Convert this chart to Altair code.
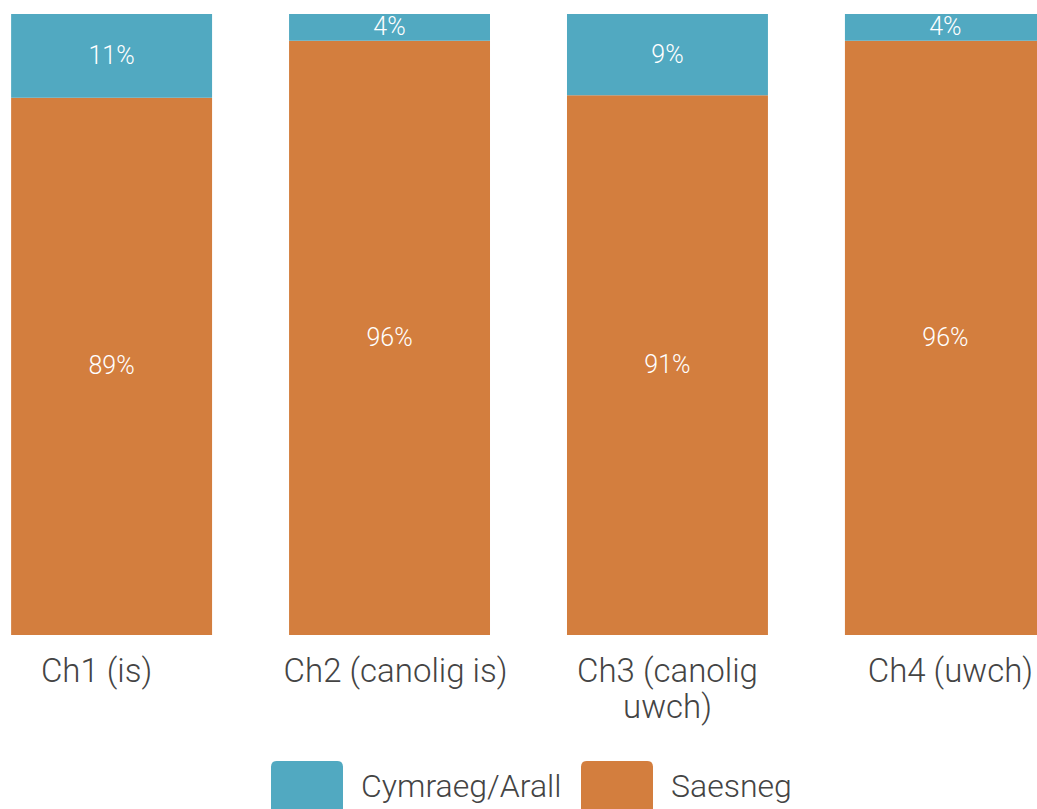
import altair as alt
import pandas as pd

categories = ["Ch1 (is)", "Ch2 (canolig is)", "Ch3 (canolig uwch)", "Ch4 (uwch)"]
series = ["Cymraeg/Arall", "Saesneg"]
colors = ["#51A9C1", "#D37E3E"]

# bar segment shares (percent of bar height)
welsh_share = [13.5, 4.3, 13.1, 4.3]
english_share = [86.5, 95.7, 86.9, 95.7]
# printed labels
welsh_labels = ["11%", "4%", "9%", "4%"]
english_labels = ["89%", "96%", "91%", "96%"]

rows = []
for i, c in enumerate(categories):
    rows.append(dict(cat=c, series=series[1], share=english_share[i], label=english_labels[i], order=0))
    rows.append(dict(cat=c, series=series[0], share=welsh_share[i], label=welsh_labels[i], order=1))
df = pd.DataFrame(rows)

FONT = "Roboto"

base = alt.Chart(df).transform_stack(
    stack="share", as_=["y0", "y1"], groupby=["cat"], sort=[alt.SortField("order")]
).transform_calculate(mid="(datum.y0 + datum.y1) / 2")

label_offset = {
    "condition": [
        {"test": "datum.value == 'Ch1 (is)'", "value": -15},
        {"test": "datum.value == 'Ch2 (canolig is)'", "value": 6},
        {"test": "datum.value == 'Ch4 (uwch)'", "value": 5},
    ],
    "value": 0,
}

x = alt.X(
    "cat:N",
    sort=categories,
    title=None,
    scale=alt.Scale(range=[0, 1057], paddingInner=0.277, paddingOuter=0.04),
    axis=alt.Axis(
        domain=False, ticks=False, grid=False, labelAngle=0,
        labelFont=FONT, labelFontSize=33, labelFontWeight=300, labelColor="#444444",
        labelPadding=20, labelLimit=500, labelLineHeight=36,
        labelOffset=label_offset,
        labelExpr="datum.value == 'Ch3 (canolig uwch)' ? ['Ch3 (canolig', 'uwch)'] : datum.value",
    ),
)
yscale = alt.Scale(domain=[0, 100], nice=False, zero=True)

rounded = "M-1,-0.84 Q-1,-1 -0.84,-1 L0.84,-1 Q1,-1 1,-0.84 L1,0.84 Q1,1 0.84,1 L-0.84,1 Q-1,1 -1,0.84 Z"

bars = base.mark_bar().encode(
    x=x,
    y=alt.Y("y0:Q", scale=yscale, axis=None),
    y2="y1:Q",
    color=alt.Color(
        "series:N",
        scale=alt.Scale(domain=series, range=colors),
        legend=alt.Legend(
            title=None, orient="none", legendX=271, legendY=747, direction="horizontal",
            symbolType=rounded, symbolSize=5184, symbolStrokeWidth=0, symbolOpacity=1,
            labelFont=FONT, labelFontSize=32, labelFontWeight=300, labelColor="#444444",
            labelOffset=18, columnPadding=19, labelBaseline="alphabetic", labelLimit=500,
        ),
    ),
)

texts = base.mark_text(color="white", font=FONT, fontSize=25, fontWeight=300, baseline="middle").encode(
    x=x,
    y=alt.Y("mid:Q", scale=yscale, axis=None),
    text="label:N",
)

chart = (bars + texts).properties(
    width=1037,
    height=621,
    autosize=alt.AutoSizeParams(type="none"),
    padding={"left": 0, "top": 14, "right": 0, "bottom": 174},
).configure_view(stroke=None)

chart.save("out.html", embed_options={"renderer": "svg", "actions": False})
